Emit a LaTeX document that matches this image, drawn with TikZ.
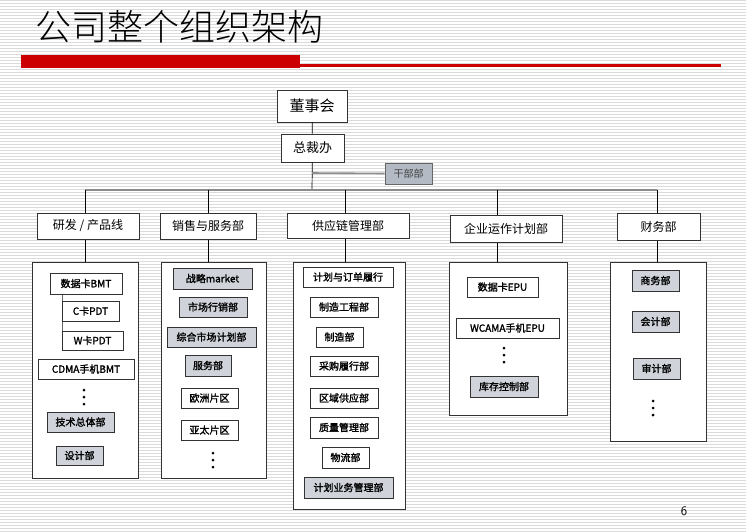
\documentclass[tikz,border=0pt]{standalone}
\usepackage{fontspec}
\newfontfamily\cjk{Noto Sans CJK SC}
\newfontfamily\cjkl{Noto Sans CJK SC Light}
\newfontfamily\cjkb[FakeBold=1.6]{Noto Sans CJK SC}
\definecolor{grayfill}{HTML}{D0D4DA}
\definecolor{darkfill}{HTML}{B4BAC4}
\definecolor{redbar}{HTML}{CC0000}
\tikzset{
 bx/.style={draw=black!80,line width=0.8pt,inner sep=0pt,font=\cjkb\fontsize{10}{10}\selectfont,fill=white},
 gx/.style={bx,fill=grayfill},
 hd/.style={draw=black!80,line width=0.8pt,inner sep=0pt,fill=white,font=\cjk\fontsize{12}{12}\selectfont},
 cont/.style={draw=black!80,line width=0.9pt,fill=white},
 ln/.style={black,line width=0.7pt},
 gl/.style={black!45,line width=1.6pt},
 dot/.style={circle,fill=black,inner sep=0pt,minimum size=3pt}
}
\newcommand{\bxat}[7]{\node[#6,minimum width={#4-#2},minimum height={#5-#3}] (#1) at ({(#2+#4)/2},{(#3+#5)/2}) {#7};}
\begin{document}
\begin{tikzpicture}[x=1pt,y=-1pt]
\useasboundingbox (0,0) rectangle (746,531);
\fill[white] (0,0) rectangle (746,531);
\foreach \i in {0,3,...,531} \draw[black!14,line width=0.8pt] (0,\i) -- (746,\i);
% title
\node[anchor=west,font=\cjkl\fontsize{36}{36}\selectfont,inner sep=0pt] (title) at (35,27) {公司整个组织架构};
\fill[redbar] (21,55) rectangle (300,68);
\fill[redbar] (300,64) rectangle (721,67);
% top
\bxat{dsh}{277}{90}{347}{122}{hd,font=\cjk\fontsize{15}{15}\selectfont}{董事会}
\bxat{zcb}{281}{134}{344}{162}{hd,font=\cjk\fontsize{13}{13}\selectfont}{总裁办}
\bxat{gbb}{385}{163}{432}{184}{hd,fill=darkfill,draw=black!60,font=\cjk\fontsize{10}{10}\selectfont,text=black!75}{干部部}
\coordinate (bus) at (312,190);
\draw[ln] (dsh) -- (zcb);
\draw[ln] (zcb) -- (bus);
\draw[gl] (312,173) -- (gbb.west);
\draw[gl] (85,190) -- (657,190);
% head drops
\foreach \x in {85,208,345,497,657}{
 \draw[ln] (\x,190) -- (\x,262);
}
% heads
\bxat{h1}{37}{213}{139}{239}{hd}{研发 / 产品线}
\bxat{h2}{160}{213}{256}{239}{hd}{销售与服务部}
\bxat{h3}{287}{213}{409}{238}{hd}{供应链管理部}
\bxat{h4}{450}{215}{562}{242}{hd}{企业运作计划部}
\bxat{h5}{617}{213}{700}{240}{hd}{财务部}
% containers
\bxat{c1}{32}{262}{138}{478}{cont}{}
\bxat{c2}{161}{262}{266}{478}{cont}{}
\bxat{c3}{293}{262}{405}{509}{cont}{}
\bxat{c4}{449}{262}{567}{415}{cont}{}
\bxat{c5}{610}{262}{706}{441}{cont}{}
% col1
\draw[ln,black!60] (62,294) -- (62,350);
\bxat{a1}{50}{273}{122}{294}{bx}{数据卡BMT}
\bxat{a2}{62}{301}{119}{321}{bx}{C卡PDT}
\bxat{a3}{62}{331}{123}{350}{bx}{W卡PDT}
\bxat{a4}{38}{359}{134}{379}{bx}{CDMA手机BMT}
\foreach \y in {390,397,404} \node[dot] at (84,\y) {};
\bxat{a5}{47}{412}{114}{432}{gx}{技术总体部}
\bxat{a6}{56}{446}{103}{465}{gx}{设计部}
% col2
\bxat{b1}{173}{268}{252}{289}{gx}{战略market}
\bxat{b2}{179}{297}{247}{317}{gx}{市场行销部}
\bxat{b3}{167}{327}{256}{347}{gx}{综合市场计划部}
\bxat{b4}{185}{355}{231}{376}{gx}{服务部}
\bxat{b5}{181}{388}{238}{408}{bx}{欧洲片区}
\bxat{b6}{181}{420}{238}{440}{bx}{亚太片区}
\foreach \y in {453,460,467} \node[dot] at (213,\y) {};
% col3
\bxat{s1}{303}{267}{393}{287}{bx}{计划与订单履行}
\bxat{s2}{310}{297}{378}{317}{bx}{制造工程部}
\bxat{s3}{316}{327}{363}{347}{bx}{制造部}
\bxat{s4}{310}{356}{378}{376}{bx}{采购履行部}
\bxat{s5}{310}{388}{378}{408}{bx}{区域供应部}
\bxat{s6}{310}{417}{378}{438}{bx}{质量管理部}
\bxat{s7}{322}{447}{369}{468}{bx}{物流部}
\bxat{s8}{304}{477}{393}{498}{gx}{计划业务管理部}
% col4
\bxat{e1}{467}{277}{538}{297}{bx}{数据卡EPU}
\bxat{e2}{456}{318}{559}{338}{bx}{WCAMA手机EPU}
\foreach \y in {348,355,362} \node[dot] at (504,\y) {};
\bxat{e3}{470}{376}{538}{397}{gx}{库存控制部}
% col5
\bxat{f1}{632}{270}{679}{291}{gx}{商务部}
\bxat{f2}{632}{311}{679}{332}{gx}{会计部}
\bxat{f3}{633}{358}{680}{379}{gx}{审计部}
\foreach \y in {401,408,415} \node[dot] at (653,\y) {};
\node[font=\fontsize{13}{13}\selectfont\sffamily] (pg) at (684,511) {6};
\end{tikzpicture}
\end{document}
